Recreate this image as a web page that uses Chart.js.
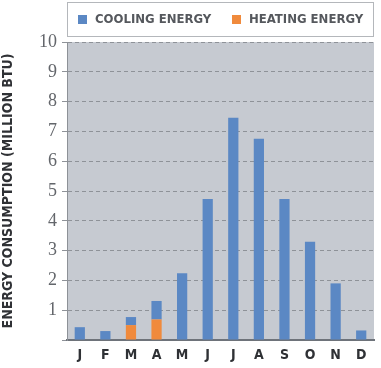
<!DOCTYPE html>
<html>
<head>
<meta charset="utf-8">
<script src="https://cdn.jsdelivr.net/npm/chart.js@4/dist/chart.umd.min.js"></script>
<style>
  html, body { margin: 0; padding: 0; background: #ffffff; }
  #wrap { width: 381px; height: 368px; }
</style>
</head>
<body>
<div id="wrap"><canvas id="c" width="381" height="368"></canvas></div>
<script>
// Monthly energy use, million BTU
const months = ['J', 'F', 'M', 'A', 'M', 'J', 'J', 'A', 'S', 'O', 'N', 'D'];
const coolingEnergy = [0.43, 0.30, 0.27, 0.62, 2.24, 4.73, 7.46, 6.75, 4.73, 3.30, 1.90, 0.32];
const heatingEnergy = [0, 0, 0.50, 0.69, 0, 0, 0, 0, 0, 0, 0, 0];
const yTicks = [1, 2, 3, 4, 5, 6, 7, 8, 9, 10];

const BLUE = '#5b88c4';
const ORANGE = '#f08a3c';
const condensed = '"DejaVu Sans Condensed", "DejaVu Sans", sans-serif';

// Grey plot panel behind the bars
const panelBg = {
  id: 'panelBg',
  beforeDraw(chart) {
    const { ctx, chartArea: a } = chart;
    ctx.save();
    ctx.fillStyle = '#c6cad1';
    ctx.fillRect(a.left, a.top, a.right - a.left, a.bottom - a.top);
    ctx.restore();
  }
};

// Boxed legend above the panel
const boxLegend = {
  id: 'boxLegend',
  afterDraw(chart) {
    const { ctx, chartArea: a } = chart;
    const top = 2, h = 34;
    ctx.save();
    ctx.fillStyle = '#ffffff';
    ctx.fillRect(a.left, top, a.right - a.left, h);
    ctx.strokeStyle = '#b4b7bb';
    ctx.lineWidth = 1;
    ctx.strokeRect(a.left + 0.5, top + 0.5, a.right - a.left - 1, h);
    const items = [
      { label: chart.data.datasets[1].label, color: BLUE, x: a.left + 11 },
      { label: chart.data.datasets[0].label, color: ORANGE, x: a.left + 165 }
    ];
    ctx.font = 'bold 13px ' + condensed;
    ctx.textBaseline = 'middle';
    items.forEach(it => {
      ctx.fillStyle = it.color;
      ctx.fillRect(it.x, top + 13, 9, 9);
      ctx.fillStyle = '#55585d';
      ctx.fillText(it.label, it.x + 17, top + 18);
    });
    ctx.restore();
  }
};

new Chart(document.getElementById('c'), {
  type: 'bar',
  data: {
    labels: months,
    datasets: [
      {
        label: 'HEATING ENERGY',
        data: heatingEnergy,
        backgroundColor: ORANGE,
        barPercentage: 0.4,
        categoryPercentage: 1.0
      },
      {
        label: 'COOLING ENERGY',
        data: coolingEnergy,
        backgroundColor: BLUE,
        barPercentage: 0.4,
        categoryPercentage: 1.0
      }
    ]
  },
  options: {
    responsive: false,
    animation: false,
    devicePixelRatio: 1,
    layout: { padding: { top: 42, right: 7, left: 0, bottom: 0 } },
    plugins: {
      legend: { display: false },
      tooltip: { enabled: false }
    },
    scales: {
      x: {
        stacked: true,
        grid: { display: false, drawTicks: false },
        border: { display: true, color: '#6e737a', width: 2 },
        ticks: {
          color: '#2f3135',
          font: { family: condensed, size: 14, weight: 'bold' },
          padding: 7
        },
        afterFit(s) { s.height = 28; }
      },
      y: {
        stacked: true,
        min: 0,
        max: 10,
        afterBuildTicks(s) { s.ticks = [0].concat(yTicks).map(v => ({ value: v })); },
        grid: {
          color: '#8e9298',
          lineWidth: 1,
          tickLength: 5,
          tickColor: '#8e9298',
          tickBorderDash: [],
          drawOnChartArea: true
        },
        border: { display: true, color: '#8d9197', width: 1, dash: [4, 3] },
        ticks: {
          color: '#63666b',
          font: { family: '"Liberation Serif", "DejaVu Serif", serif', size: 18 },
          padding: 5,
          callback: v => (v === 0 ? '' : String(v))
        },
        title: {
          display: true,
          text: 'ENERGY CONSUMPTION (MILLION BTU)',
          color: '#2f3135',
          font: { family: condensed, size: 14, weight: 'bold' },
          padding: { top: 0, bottom: 4 }
        },
        afterFit(s) { s.width = 67; }
      }
    }
  },
  plugins: [panelBg, boxLegend]
});
</script>
</body>
</html>
